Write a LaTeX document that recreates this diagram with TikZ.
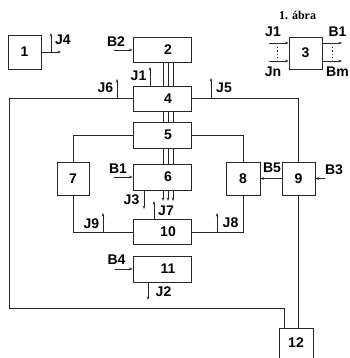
\documentclass[tikz,border=0pt]{standalone}
\usepackage{fontspec}
\setmainfont{Liberation Sans}
\newfontfamily\capfont{Liberation Serif}
\usetikzlibrary{arrows.meta}
\begin{document}
\begin{tikzpicture}[x=1pt,y=-1pt,
  ln/.style={line width=0.8pt, draw=black!85},
  arr/.style={ln, -{Stealth[length=3.5pt,width=2.6pt]}},
  lbl/.style={font=\fontsize{14}{14}\selectfont\bfseries, inner sep=0pt},
  box/.style={ln, draw, rectangle, inner sep=0pt, minimum width=58pt, minimum height=25pt},
  sq/.style={ln, draw, rectangle, inner sep=0pt, minimum width=33pt, minimum height=33pt, lbl},
  num/.style={label={[lbl,xshift=6pt]center:#1}},
  dots/.style={line width=0.8pt, draw=black!85, dash pattern=on 1.5pt off 2pt}
]
\useasboundingbox (0,0) rectangle (349,358);

% boxes
\node[sq, minimum height=34pt] (n1) at (24.5,52) {1};
\node[box, num=2] (n2) at (162,49.5) {};
\node[sq, minimum height=32pt] (n3) at (305.5,53) {3};
\node[box, num=4] (n4) at (162,98.5) {};
\node[box, minimum height=26pt, num=5] (n5) at (162,135) {};
\node[box, minimum height=26pt, num=6] (n6) at (162,177) {};
\node[sq, minimum width=32pt] (n7) at (73,178.5) {7};
\node[sq, minimum width=34pt] (n8) at (243,178.5) {8};
\node[sq] (n9) at (298.5,178.5) {9};
\node[box, num=10] (n10) at (162,231.5) {};
\node[box, minimum height=26pt, num=11] (n11) at (162,269) {};
\node[sq, minimum width=34pt, minimum height=30pt] (n12) at (296,343) {12};

% caption
\node[font=\capfont\fontsize{12}{12}\selectfont\bfseries, inner sep=0pt] (cap) at (297.5,15) {1. ábra};

% box 1
\coordinate (o1) at (61,52);
\draw[arr] (n1.east) -- (o1);
\coordinate (j4a) at (51,52); \coordinate (j4b) at (51,33);
\draw[arr] (j4a) -- (j4b);
\node[lbl, anchor=west] (tJ4) at (55,40) {J4};

% box 3 legend
\coordinate (i1) at (269,43); \coordinate (i2) at (269,61);
\coordinate (o31) at (342,43); \coordinate (o32) at (342,61);
\draw[arr] (i1) -- (i1 -| n3.west);
\draw[arr] (i2) -- (i2 -| n3.west);
\draw[arr] (o31 -| n3.east) -- (o31);
\draw[arr] (o32 -| n3.east) -- (o32);
\coordinate (d1a) at (277,47); \coordinate (d1b) at (277,58);
\coordinate (d2a) at (332,47); \coordinate (d2b) at (332,58);
\draw[dots] (d1a) -- (d1b);
\draw[dots] (d2a) -- (d2b);
\node[lbl] (tJ1l) at (273,32) {J1};
\node[lbl] (tJnl) at (273,72) {Jn};
\node[lbl] (tB1l) at (337.5,32) {B1};
\node[lbl] (tBml) at (337.5,72) {Bm};

% box 2
\coordinate (b2) at (114,50);
\draw[arr] (b2) -- (b2 -| n2.west);
\node[lbl] (tB2) at (116,42) {B2};
\foreach \x in {163,168,173} {
  \draw[ln] (\x,0 |- n2.south) -- (\x,0 |- n4.north);
  \draw[ln] (\x,0 |- n4.south) -- (\x,0 |- n5.north);
  \draw[ln] (\x,0 |- n5.south) -- (\x,0 |- n6.north);
  \draw[arr] (\x,0 |- n6.south) -- (\x,201);
}

% box 4
\coordinate (j1b) at (150,67);
\draw[arr] (j1b |- n4.north) -- (j1b);
\node[lbl] (tJ1) at (138.5,76) {J1};
\coordinate (L1) at (9,98.5); \coordinate (L2) at (9,308); \coordinate (L3) at (284,308);
\draw[ln] (n4.west) -- (L1) -- (L2) -- (L3) -- (L3 |- n12.north);
\coordinate (j6a) at (117,98.5); \coordinate (j6b) at (117,79);
\draw[arr] (j6a) -- (j6b);
\node[lbl] (tJ6) at (105.5,88) {J6};
\coordinate (R1) at (298.5,98.5);
\draw[ln] (n4.east) -- (R1) -- (n9.north);
\coordinate (j5a) at (211,98.5); \coordinate (j5b) at (211,78);
\draw[arr] (j5a) -- (j5b);
\node[lbl] (tJ5) at (224,88) {J5};
\draw[ln] (n9.south) -- (n9.south |- n12.north);

% box 5 side loops
\coordinate (p7) at (73,135); \coordinate (q7) at (73,232);
\draw[ln] (n5.west) -- (p7) -- (n7.north);
\draw[ln] (n7.south) -- (q7) -- (q7 -| n10.west);
\coordinate (j9a) at (103,232); \coordinate (j9b) at (103,213);
\draw[arr] (j9a) -- (j9b);
\node[lbl] (tJ9) at (91.5,224) {J9};
\coordinate (p8) at (243,135); \coordinate (q8) at (243,232);
\draw[ln] (n5.east) -- (p8) -- (n8.north);
\draw[ln] (n8.south) -- (q8) -- (q8 -| n10.east);
\coordinate (j8a) at (217,232); \coordinate (j8b) at (217,213);
\draw[arr] (j8a) -- (j8b);
\node[lbl] (tJ8) at (230.5,223) {J8};

% B5, B3
\draw[arr] (n9.west) -- (n8.east);
\node[lbl] (tB5) at (272,168) {B5};
\coordinate (b3) at (325,178.5);
\draw[arr] (b3) -- (n9.east);
\node[lbl] (tB3) at (334,170) {B3};

% box 6
\coordinate (b1) at (114,177);
\draw[arr] (b1) -- (n6.west);
\node[lbl] (tB1) at (118,169) {B1};
\coordinate (j3b) at (144,209);
\draw[arr] (j3b |- n6.south) -- (j3b);
\node[lbl] (tJ3) at (131.5,200) {J3};
\coordinate (j7b) at (154,201);
\draw[arr] (j7b |- n10.north) -- (j7b);
\node[lbl] (tJ7) at (166,211) {J7};

% box 11
\coordinate (b4) at (115,269);
\draw[arr] (b4) -- (n11.west);
\node[lbl] (tB4) at (116.5,260) {B4};
\coordinate (j2b) at (148,300);
\draw[arr] (j2b |- n11.south) -- (j2b);
\node[lbl] (tJ2) at (163.5,292) {J2};
\end{tikzpicture}
\end{document}
